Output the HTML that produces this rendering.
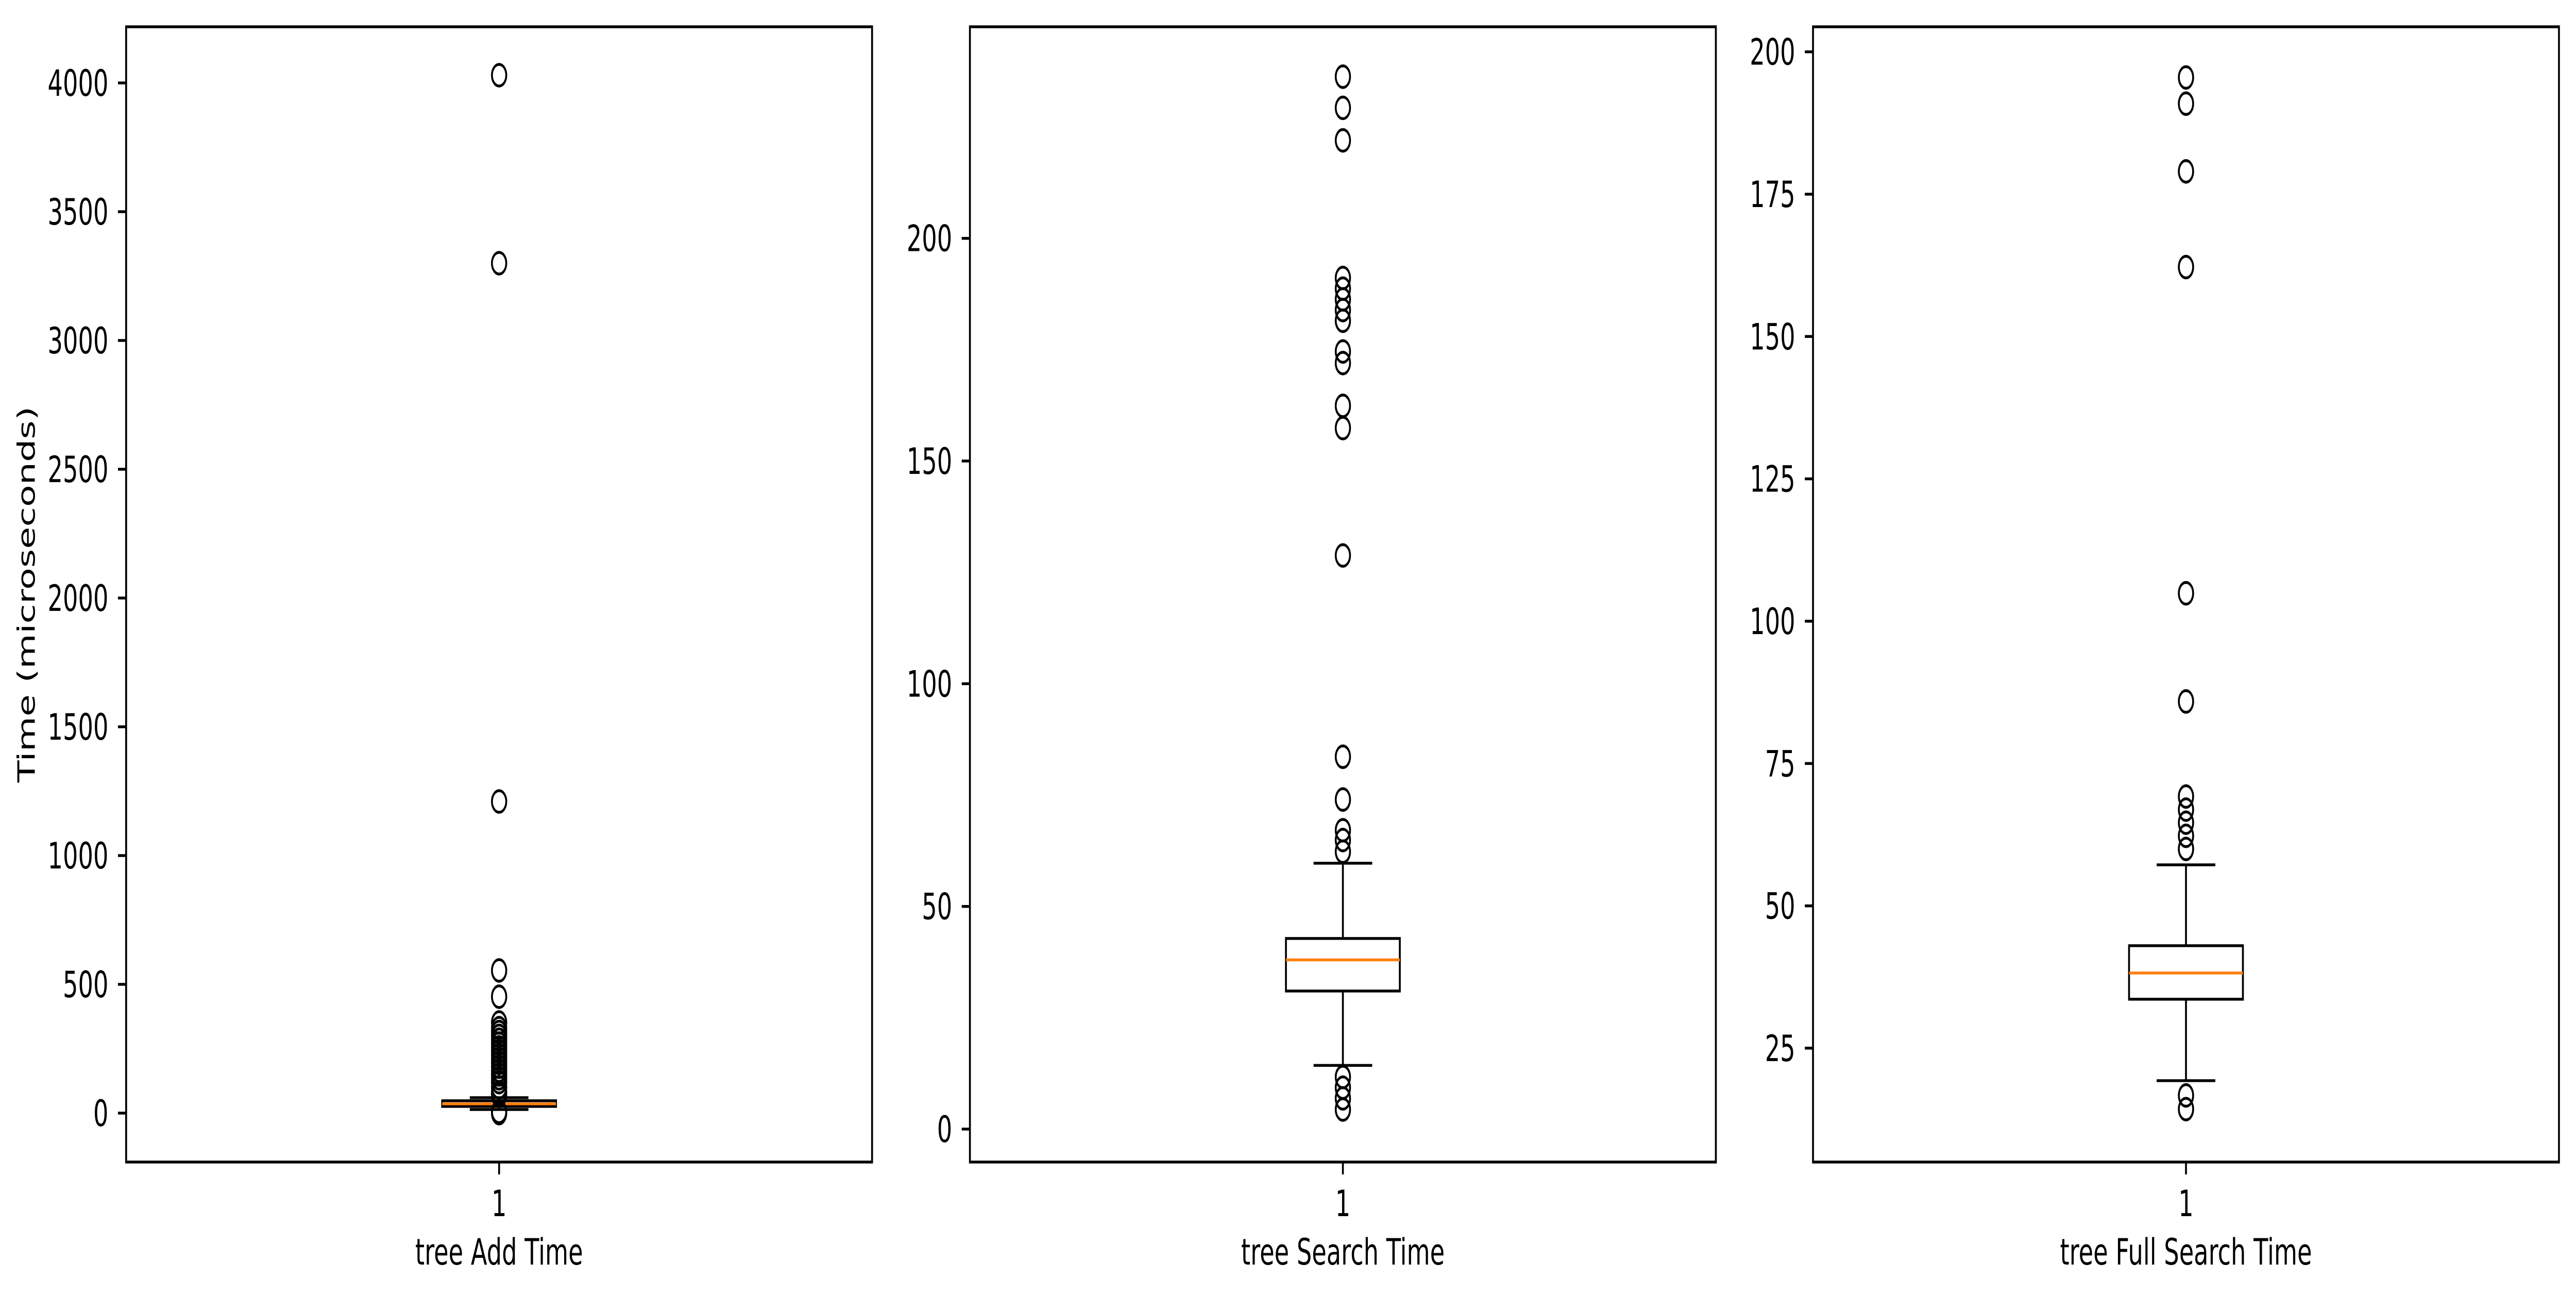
<!DOCTYPE html>
<html>
<head>
<meta charset="utf-8">
<meta name="viewport" content="width=7556, initial-scale=1">
<style>
html,body{margin:0;padding:0;background:#fff;width:100%;height:100%;overflow:hidden;}
svg{display:block;width:100vw;height:100vh;}
text{font-family:"DejaVu Sans","Liberation Sans",sans-serif;fill:#000;}
</style>
</head>
<body>
<svg id="chart" viewBox="0 0 7556 2518" preserveAspectRatio="none" xmlns="http://www.w3.org/2000/svg">
<rect x="0" y="0" width="7556" height="2518" fill="#fff"></rect>
<text transform="translate(102,1154) rotate(-90)" text-anchor="middle" font-size="70">Time (microseconds)</text>
</svg>
<script>
// ---- data ----
const panelLabels = ["tree Add Time", "tree Search Time", "tree Full Search Time"];
const addStats = [14, 26, 36, 48, 60];          // whiskerLow, q1, median, q3, whiskerHigh
const searchStats = [14.3, 31, 38, 42.8, 59.7];
const fullStats = [19.3, 33.6, 38.2, 43, 57.2];
const addOutliers = [4030, 3300, 1210, 554, 452, 352, 330, 315, 300, 285, 270, 255, 240, 225, 210, 195, 180, 165, 150, 135, 120, 100, 80, 70, 5, 0];
const searchOutliers = [236.3, 229.3, 222, 191.1, 188.7, 186.3, 183.9, 181.5, 174.6, 172, 162.4, 157.4, 128.8, 83.6, 74, 67.1, 64.9, 62.3, 11.7, 9.3, 6.9, 4.4];
const fullOutliers = [195.5, 190.9, 179, 162.2, 104.9, 85.9, 69.2, 66.9, 64.6, 62.3, 60, 16.7, 14.3];
const addTicks = [0, 500, 1000, 1500, 2000, 2500, 3000, 3500, 4000];
const searchTicks = [0, 50, 100, 150, 200];
const fullTicks = [25, 50, 75, 100, 125, 150, 175, 200];
const addRange = [-190, 4218];
const searchRange = [-7.4, 247.5];
const fullRange = [5.0, 204.4];

// ---- layout ----
const NS = "http://www.w3.org/2000/svg";
const svg = document.getElementById("chart");
const TOP = 52, BOTTOM = 2256, W = 2188;
const lefts = [370, 2845, 5318];
const statsAll = [addStats, searchStats, fullStats];
const outAll = [addOutliers, searchOutliers, fullOutliers];
const ticksAll = [addTicks, searchTicks, fullTicks];
const rangeAll = [addRange, searchRange, fullRange];
const keys = ["add", "search", "full"];

function mk(tag, attrs, parent) {
  const e = document.createElementNS(NS, tag);
  for (const k in attrs) e.setAttribute(k, attrs[k]);
  (parent || svg).appendChild(e);
  return e;
}

for (let p = 0; p < 3; p++) {
  const L = lefts[p], cx = L + W / 2;
  const rng = rangeAll[p];
  const yScale = v => BOTTOM - (v - rng[0]) / (rng[1] - rng[0]) * (BOTTOM - TOP);
  const g = mk("g", {});
  
  

  ticksAll[p].forEach(t => {
    const y = yScale(t);
    const tk = mk("line", {x1: L - 24, x2: L, y1: y, y2: y, stroke: "#000", "stroke-width": 5.5}, g);
    
    
    const tx = mk("text", {x: L - 52, y: y + 25, "text-anchor": "end", "font-size": 70}, g);
    tx.textContent = String(t);
    
    
  });

  const xt = mk("line", {x1: cx, x2: cx, y1: BOTTOM, y2: BOTTOM + 24, stroke: "#000", "stroke-width": 5.5}, g);
  
  
  const xl = mk("text", {x: cx, y: 2361, "text-anchor": "middle", "font-size": 70}, g);
  xl.textContent = "1";
  
  
  const xlab = mk("text", {x: cx, y: 2455, "text-anchor": "middle", "font-size": 70}, g);
  xlab.textContent = panelLabels[p];
  
  

  const s = statsAll[p];
  const bw = 167, cw = 86;
  const wl = mk("line", {x1: cx, x2: cx, y1: yScale(s[1]), y2: yScale(s[0]), stroke: "#000", "stroke-width": 5.5}, g);
  
  
  const wh = mk("line", {x1: cx, x2: cx, y1: yScale(s[3]), y2: yScale(s[4]), stroke: "#000", "stroke-width": 5.5}, g);
  
  
  const c1 = mk("line", {x1: cx - cw, x2: cx + cw, y1: yScale(s[0]), y2: yScale(s[0]), stroke: "#000", "stroke-width": 5.5}, g);
  
  
  const c2 = mk("line", {x1: cx - cw, x2: cx + cw, y1: yScale(s[4]), y2: yScale(s[4]), stroke: "#000", "stroke-width": 5.5}, g);
  
  
  const bx = mk("rect", {x: cx - bw, y: yScale(s[3]), width: 2 * bw, height: yScale(s[1]) - yScale(s[3]), fill: "none", stroke: "#000", "stroke-width": 5.5}, g);
  
  
  const md = mk("line", {x1: cx - bw, x2: cx + bw, y1: yScale(s[2]), y2: yScale(s[2]), stroke: "#ff7f0e", "stroke-width": 5.5}, g);
  
  

  outAll[p].forEach(v => {
    const c = mk("circle", {cx: cx, cy: yScale(v), r: 21, fill: "none", stroke: "#000", "stroke-width": 5.5}, g);
    
    
  });

  const fr = mk("rect", {x: L, y: TOP, width: W, height: BOTTOM - TOP, fill: "none", stroke: "#000", "stroke-width": 5.5}, g);
  
  
}
</script>
</body>
</html>
